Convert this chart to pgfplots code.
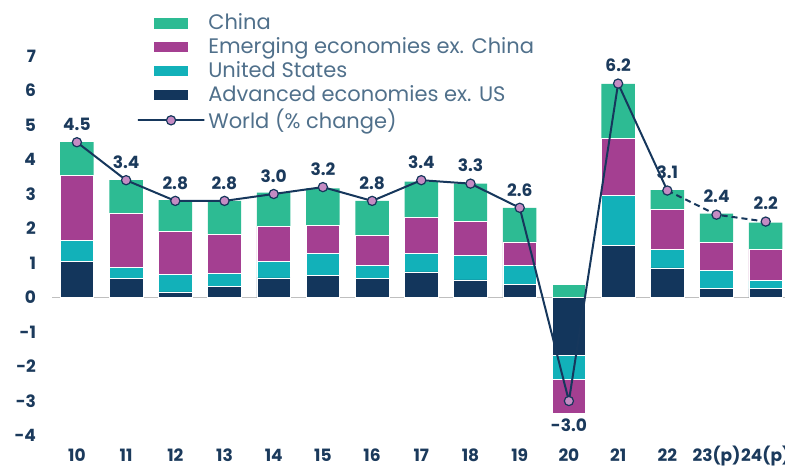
\documentclass[border=0pt]{standalone}
\usepackage{fontspec}
\setmainfont{Poppins}
\usepackage{pgfplots}
\pgfplotsset{compat=1.18}
\definecolor{cChina}{HTML}{2DBB93}
\definecolor{cEM}{HTML}{A43F91}
\definecolor{cUS}{HTML}{12B1B9}
\definecolor{cAdv}{HTML}{13365C}
\definecolor{cLine}{HTML}{16375C}
\definecolor{cMark}{HTML}{C58BC3}
\definecolor{cLeg}{HTML}{50708B}
\definecolor{cTick}{HTML}{1B3A5C}
\begin{document}
\begin{tikzpicture}
\pgfplotsset{
  basegeom/.style={
    at={(0pt,0pt)}, anchor=south west, scale only axis,
    width=369pt, height=189.75pt,
    xmin=-0.5, xmax=14.5, ymin=-4, ymax=7,
  },
}
\begin{axis}[basegeom, ybar stacked, bar width=0.68,
  axis line style={draw=none}, major tick length=0pt,
  xtick={0,...,14},
  xticklabels={10,11,12,13,14,15,16,17,18,19,20,21,22,23(p),24(p)},
  ytick={-4,-3,...,7},
  ticklabel style={font=\fontsize{8.5}{10}\selectfont\bfseries, text=cTick},
  xticklabel style={anchor=base, inner sep=0pt, yshift=-12.75pt},
  yticklabel style={anchor=east, inner sep=0pt, xshift=-8pt},
  /pgf/number format/assume math mode=true,
  extra y ticks={0}, extra y tick labels={},
  extra y tick style={grid=major, major grid style={draw=black!25, line width=0.8pt}},
  legend style={at={(rel axis cs:0.114,1.112)}, anchor=north west, draw=none, fill=none, inner sep=0pt,
     font=\fontsize{10.5}{12}\selectfont, text=cLeg, row sep=2.4pt, column sep=1.5pt, nodes={inner sep=0pt}},
  legend cell align=left,
]
\addlegendimage{legend image code/.code={\fill[cChina] (0pt,-2.3pt) rectangle (16.5pt,2.3pt);}}
\addlegendentry{China}
\addlegendimage{legend image code/.code={\fill[cEM] (0pt,-2.3pt) rectangle (16.5pt,2.3pt);}}
\addlegendentry{Emerging economies ex. China}
\addlegendimage{legend image code/.code={\fill[cUS] (0pt,-2.3pt) rectangle (16.5pt,2.3pt);}}
\addlegendentry{United States}
\addlegendimage{legend image code/.code={\fill[cAdv] (0pt,-2.3pt) rectangle (16.5pt,2.3pt);}}
\addlegendentry{Advanced economies ex. US}
\addlegendimage{legend image code/.code={\draw[cLine, line width=1pt, mark=*, mark size=2.3pt, mark options={fill=cMark, draw=cLine, line width=0.6pt}, mark repeat=2, mark phase=2] plot coordinates {(0pt,0pt) (8.25pt,0pt) (16.5pt,0pt)};}}
\addlegendentry{World (\% change)}
% Advanced economies ex. US
\addplot[fill=cAdv, draw=white, line width=0.3pt, forget plot] coordinates {
 (0,1.05) (1,0.55) (2,0.16) (3,0.32) (4,0.57) (5,0.64) (6,0.55) (7,0.74) (8,0.51) (9,0.37)
 (10,-1.68) (11,1.52) (12,0.86) (13,0.26) (14,0.26)};
% United States
\addplot[fill=cUS, draw=white, line width=0.3pt, forget plot] coordinates {
 (0,0.60) (1,0.32) (2,0.51) (3,0.38) (4,0.48) (5,0.64) (6,0.39) (7,0.54) (8,0.72) (9,0.57)
 (10,-0.69) (11,1.45) (12,0.54) (13,0.53) (14,0.23)};
% Emerging economies ex. China
\addplot[fill=cEM, draw=white, line width=0.3pt, forget plot] coordinates {
 (0,1.90) (1,1.56) (2,1.24) (3,1.13) (4,1.00) (5,0.82) (6,0.86) (7,1.05) (8,0.97) (9,0.67)
 (10,-0.99) (11,1.64) (12,1.16) (13,0.80) (14,0.91)};
% China (2020 value 0.38 drawn separately, above zero)
\addplot[fill=cChina, draw=none, forget plot] coordinates {
 (0,0.95) (1,0.97) (2,0.91) (3,0.97) (4,0.99) (5,1.06) (6,1.00) (7,1.03) (8,1.10) (9,0.99)
 (10,0) (11,1.58) (12,0.55) (13,0.84) (14,0.77)};
\end{axis}
\begin{axis}[basegeom, hide axis]
\addplot[ybar, bar width=0.68, bar shift=0pt, fill=cChina, draw=white, line width=0.3pt] coordinates {(10,0.38)};
\addplot[cLine, line width=1pt, mark=none] coordinates {
 (0,4.5) (1,3.4) (2,2.8) (3,2.8) (4,3.0) (5,3.2) (6,2.8) (7,3.4) (8,3.3) (9,2.6) (10,-3.0) (11,6.2) (12,3.1)};
\addplot[cLine, line width=1pt, dash pattern=on 3pt off 2pt, mark=none] coordinates {
 (12,3.1) (13,2.4) (14,2.2)};
\addplot[only marks, mark=*, mark size=2.3pt, mark options={fill=cMark, draw=cLine, line width=0.6pt},
  nodes near coords={\pgfmathprintnumber[fixed, fixed zerofill, precision=1, assume math mode=true]{\pgfplotspointmeta}},
  every node near coord/.append style={font=\fontsize{8.5}{10}\selectfont\bfseries, text=cTick, anchor=south, inner sep=0pt, yshift=5.5pt}]
 coordinates {
 (0,4.5) (1,3.4) (2,2.8) (3,2.8) (4,3.0) (5,3.2) (6,2.8) (7,3.4) (8,3.3) (9,2.6) (11,6.2) (12,3.1) (13,2.4) (14,2.2)};
\addplot[only marks, mark=*, mark size=2.3pt, mark options={fill=cMark, draw=cLine, line width=0.6pt},
  nodes near coords={\pgfmathprintnumber[fixed, fixed zerofill, precision=1, assume math mode=true]{\pgfplotspointmeta}},
  every node near coord/.append style={font=\fontsize{8.5}{10}\selectfont\bfseries, text=cTick, anchor=north, inner sep=0pt, yshift=-8.5pt}]
 coordinates {(10,-3.0)};
\end{axis}
\pgfresetboundingbox
\path (-26.15pt,-15.25pt) rectangle (366.35pt,217.75pt);
\end{tikzpicture}
\end{document}
